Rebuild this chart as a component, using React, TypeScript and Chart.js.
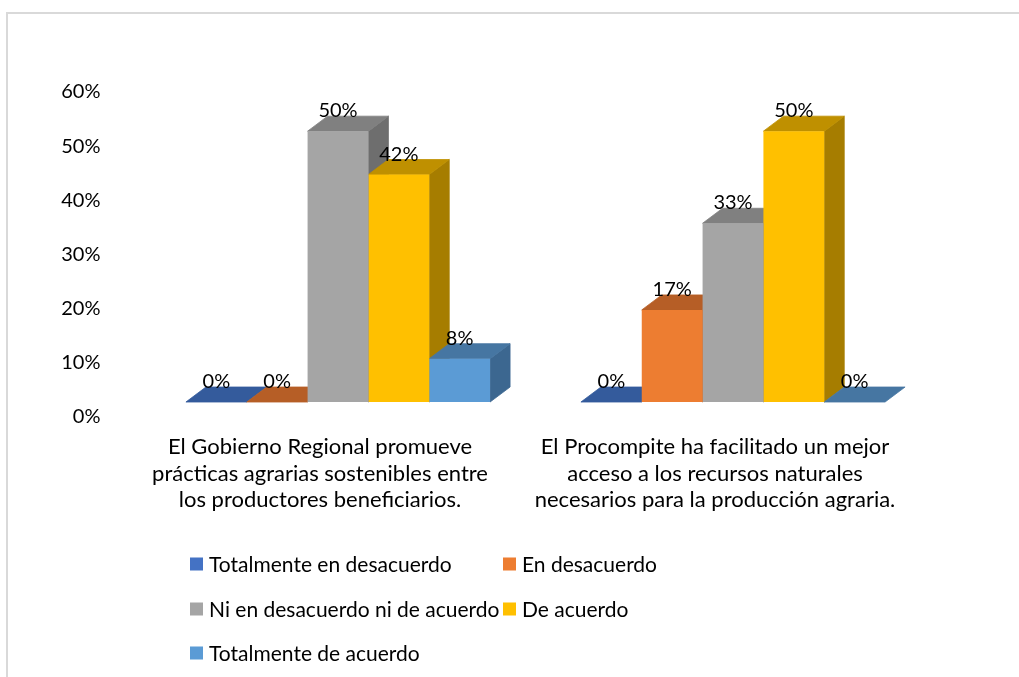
import React, { useEffect, useRef } from 'react';
import { Chart, registerables } from 'chart.js';

Chart.register(...registerables);

// ---------- data ----------
const categories: string[][] = [
  ['El Gobierno Regional promueve', 'prácticas agrarias sostenibles entre', 'los productores beneficiarios.'],
  ['El Procompite ha facilitado un mejor', 'acceso a los recursos naturales', 'necesarios para la producción agraria.'],
];
const seriesNames = [
  'Totalmente en desacuerdo',
  'En desacuerdo',
  'Ni en desacuerdo ni de acuerdo',
  'De acuerdo',
  'Totalmente de acuerdo',
];
const totalmenteEnDesacuerdo = [0, 0];
const enDesacuerdo = [0, 0.17];
const niEnDesacuerdoNiDeAcuerdo = [0.5, 0.33];
const deAcuerdo = [0.42, 0.5];
const totalmenteDeAcuerdo = [0.08, 0];
const yTickValues = [0, 0.1, 0.2, 0.3, 0.4, 0.5, 0.6];

// ---------- styles ----------
const frontColors = ['#4472C4', '#ED7D31', '#A5A5A5', '#FFC000', '#5B9BD5'];
const topColors = ['#345B9C', '#B65E26', '#808080', '#BF9000', '#4676A2'];
const sideColors = ['#2C4F8C', '#A0521F', '#6E6E6E', '#A67D00', '#3C6790'];
const FONT = 'Lato';
const CAT_SIZE = 22;
const LEGEND_SIZE = 21;
const NUM_SIZE = 20;
const DX = 20;
const DY = -15;

const seriesValues = [
  totalmenteEnDesacuerdo,
  enDesacuerdo,
  niEnDesacuerdoNiDeAcuerdo,
  deAcuerdo,
  totalmenteDeAcuerdo,
];

function collectBars(chart: any) {
  const bars: any[] = [];
  chart.getSortedVisibleDatasetMetas().forEach((meta: any) => {
    meta.data.forEach((el: any, j: number) => {
      const p = el.getProps(['x', 'y', 'base', 'width'], true);
      bars.push({ ...p, ds: meta.index, j });
    });
  });
  bars.sort((a, b) => a.x - b.x);
  return bars;
}

function fillQuad(ctx: CanvasRenderingContext2D, pts: number[][], color: string) {
  ctx.fillStyle = color;
  ctx.strokeStyle = color;
  ctx.lineWidth = 0.8;
  ctx.beginPath();
  ctx.moveTo(pts[0][0], pts[0][1]);
  for (let i = 1; i < pts.length; i++) ctx.lineTo(pts[i][0], pts[i][1]);
  ctx.closePath();
  ctx.fill();
  ctx.stroke();
}

const frame3dPlugin = {
  id: 'frame3d',
  beforeDraw(chart: any) {
    const ctx = chart.ctx;
    ctx.save();
    ctx.fillStyle = '#ffffff';
    ctx.fillRect(0, 0, chart.width, chart.height);
    ctx.strokeStyle = '#d9d9d9';
    ctx.lineWidth = 2;
    ctx.beginPath();
    ctx.moveTo(7, chart.height + 5);
    ctx.lineTo(7, 13);
    ctx.lineTo(chart.width + 5, 13);
    ctx.stroke();
    ctx.restore();
  },
  beforeDatasetsDraw(chart: any) {
    const ctx = chart.ctx;
    const bars = collectBars(chart);
    ctx.save();
    for (const b of bars) {
      const r = b.x + b.width / 2;
      if (Math.abs(b.base - b.y) > 0.5) {
        fillQuad(ctx, [[r, b.y], [r + DX, b.y + DY], [r + DX, b.base + DY], [r, b.base]], sideColors[b.ds]);
      }
    }
    for (const b of bars) {
      const l = b.x - b.width / 2;
      const r = b.x + b.width / 2;
      fillQuad(ctx, [[l, b.y], [r, b.y], [r + DX, b.y + DY], [l + DX, b.y + DY]], topColors[b.ds]);
    }
    ctx.restore();
  },
  afterDatasetsDraw(chart: any) {
    const ctx = chart.ctx;
    const bars = collectBars(chart);
    ctx.save();
    ctx.font = `${NUM_SIZE}px ${FONT}`;
    ctx.fillStyle = '#000000';
    ctx.textAlign = 'center';
    ctx.textBaseline = 'alphabetic';
    for (const b of bars) {
      const v = chart.data.datasets[b.ds].data[b.j] as number;
      ctx.fillText(`${Math.round(v * 100)}%`, b.x, b.y + DY + 1);
    }
    ctx.restore();
  },
  afterDraw(chart: any) {
    const ctx = chart.ctx;
    const colX = [190, 503];
    const rowY = [564, 609, 653];
    ctx.save();
    ctx.font = `${LEGEND_SIZE}px ${FONT}`;
    ctx.textAlign = 'left';
    ctx.textBaseline = 'middle';
    chart.data.datasets.forEach((ds: any, i: number) => {
      const cx = colX[i % 2];
      const cy = rowY[Math.floor(i / 2)];
      ctx.fillStyle = ds.backgroundColor;
      ctx.fillRect(cx, cy - 6.5, 13, 13);
      ctx.fillStyle = '#000000';
      ctx.fillText(ds.label, cx + 19, cy + 1);
    });
    ctx.restore();
  },
};

export default function App() {
  const ref = useRef<HTMLCanvasElement | null>(null);

  useEffect(() => {
    let chart: Chart | null = null;
    let cancelled = false;
    const build = () => {
      if (cancelled || !ref.current) return;
      Chart.defaults.font.family = FONT;
      Chart.defaults.font.size = NUM_SIZE;
      Chart.defaults.color = '#000000';
      chart = new Chart(ref.current, {
        type: 'bar',
        data: {
          labels: categories,
          datasets: seriesNames.map((name, i) => ({
            label: name,
            data: seriesValues[i],
            backgroundColor: frontColors[i],
            borderWidth: 0,
          })),
        },
        options: {
          responsive: false,
          animation: false,
          events: [],
          layout: { padding: { left: 0, top: 77, right: 88.5, bottom: 0 } },
          datasets: { bar: { categoryPercentage: 0.77, barPercentage: 1 } },
          plugins: {
            legend: { display: false },
            tooltip: { enabled: false },
            title: { display: false },
          },
          scales: {
            x: {
              type: 'category',
              offset: true,
              afterFit: (s: any) => {
                s.height = 257;
              },
              grid: { display: false, drawTicks: false },
              border: { display: false },
              ticks: {
                font: { size: CAT_SIZE, lineHeight: 26.5 / CAT_SIZE },
                color: '#000000',
                padding: 14,
                labelOffset: -18,
                minRotation: 0,
                maxRotation: 0,
                autoSkip: false,
              },
            },
            y: {
              type: 'linear',
              min: -0.0332,
              max: 0.6,
              afterBuildTicks: (s: any) => {
                s.ticks = yTickValues.map((v) => ({ value: v }));
              },
              afterFit: (s: any) => {
                s.width = 140.5;
              },
              grid: { display: false, drawTicks: false },
              border: { display: false },
              ticks: {
                callback: (v: any) => `${Math.round((v as number) * 100)}%`,
                font: { size: NUM_SIZE },
                color: '#000000',
                padding: 40,
                labelOffset: 15,
              },
            },
          },
        },
        plugins: [frame3dPlugin],
      } as any);
    };
    const fontsApi: any = (document as any).fonts;
    if (fontsApi && fontsApi.load) {
      fontsApi.load(`20px ${FONT}`).then(build, build);
    } else {
      build();
    }
    return () => {
      cancelled = true;
      if (chart) chart.destroy();
    };
  }, []);

  return (
    <div style={{ position: 'fixed', left: 0, top: 0, width: 1019, height: 677, background: '#fff' }}>
      <canvas ref={ref} width={1019} height={677} style={{ display: 'block', width: 1019, height: 677 }} />
    </div>
  );
}
